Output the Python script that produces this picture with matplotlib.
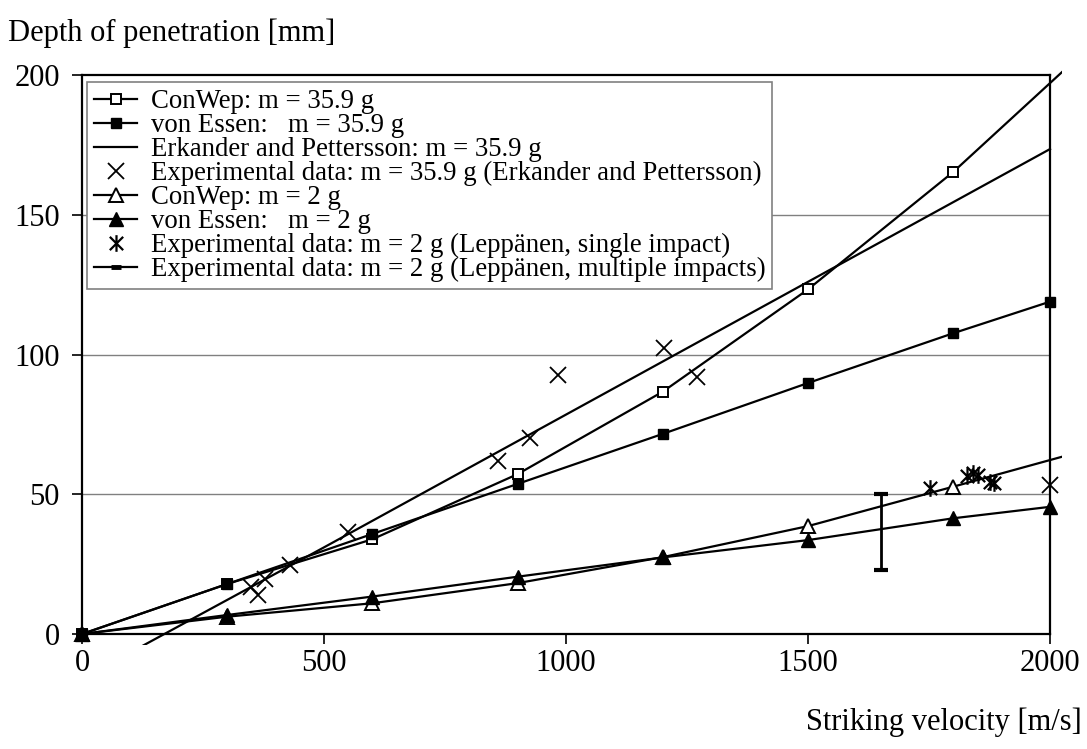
import matplotlib
matplotlib.use("Agg")
import matplotlib.pyplot as plt
from matplotlib.lines import Line2D
from matplotlib.patches import Rectangle
from matplotlib.path import Path

plt.rcParams['font.family'] = ['Liberation Serif', 'DejaVu Serif']

# ---- data ----
conwep36_v = [0, 300, 600, 900, 1200, 1500, 1800, 2100]
conwep36_p = [0, 17.9, 33.9, 57.2, 86.7, 123.3, 165.3, 213]

essen36_v = [0, 300, 600, 900, 1200, 1500, 1800, 2000]
essen36_p = [0, 17.9, 35.8, 53.7, 71.6, 89.8, 107.6, 118.9]

erk_v = [0, 500, 1000, 1500, 2000]
erk_p = [-16, 31, 78.5, 126, 173.5]

exp36_v = [350, 364, 378, 430, 550, 860, 925, 984, 1203, 1270, 2000]
exp36_p = [16.9, 14, 19.5, 24.7, 36.6, 62, 70, 92.7, 102.2, 92, 53.3]

conwep2_v = [0, 300, 600, 900, 1200, 1500, 1800, 2100]
conwep2_p = [0, 6.2, 11, 18.2, 27.5, 38.6, 52.7, 67]

essen2_v = [0, 300, 600, 900, 1200, 1500, 1800, 2000]
essen2_p = [0, 6.8, 13.4, 20.5, 27.4, 33.6, 41.4, 45.5]

single_v = [1752, 1828, 1840, 1852, 1875, 1885]
single_p = [52.3, 56.5, 57.5, 57, 54.5, 54]

multi_v = [1650]
multi_lo = [23]
multi_hi = [50]

labels = [
    "ConWep: m = 35.9 g",
    "von Essen:   m = 35.9 g",
    "Erkander and Pettersson: m = 35.9 g",
    "Experimental data: m = 35.9 g (Erkander and Pettersson)",
    "ConWep: m = 2 g",
    "von Essen:   m = 2 g",
    "Experimental data: m = 2 g (Leppänen, single impact)",
    "Experimental data: m = 2 g (Leppänen, multiple impacts)",
]

W, H = 1087, 749
fig = plt.figure(figsize=(W / 100, H / 100), dpi=100)
ax = fig.add_axes([82 / W, 1 - 634 / H, (1050 - 82) / W, (634 - 75) / H])
ax.set_xlim(0, 2000)
ax.set_ylim(0, 200)

clip = Rectangle((-0.0124, -0.0197), 1.0248, 1.0394, transform=ax.transAxes,
                 facecolor='none', edgecolor='none')

lw = 1.6
star = Path([(-1, -1), (1, 1), (-1, 1), (1, -1), (0, -1.25), (0, 1.25)],
            [Path.MOVETO, Path.LINETO, Path.MOVETO, Path.LINETO, Path.MOVETO, Path.LINETO])

l1, = ax.plot(conwep36_v, conwep36_p, '-', color='k', lw=lw, marker='s', ms=7.8,
              mfc='white', mec='k', mew=1.4, zorder=3)
l2, = ax.plot(essen36_v, essen36_p, '-', color='k', lw=lw, marker='s', ms=7.8,
              mfc='k', mec='k', zorder=3)
l3, = ax.plot(erk_v, erk_p, '-', color='k', lw=lw, zorder=3)
l4, = ax.plot(exp36_v, exp36_p, linestyle='none', marker='x', ms=11, mec='k', mew=1.3, zorder=4)
l5, = ax.plot(conwep2_v, conwep2_p, '-', color='k', lw=lw, marker='^', ms=9.5,
              mfc='white', mec='k', mew=1.4, zorder=3)
l6, = ax.plot(essen2_v, essen2_p, '-', color='k', lw=lw, marker='^', ms=9.5,
              mfc='k', mec='k', zorder=3)
l7, = ax.plot(single_v, single_p, linestyle='none', marker=star, ms=12, mec='k', mew=1.6, zorder=4)
mid = [(a + b) / 2 for a, b in zip(multi_lo, multi_hi)]
err = [(b - a) / 2 for a, b in zip(multi_lo, multi_hi)]
ax.errorbar(multi_v, mid, yerr=err, fmt='none', ecolor='k', elinewidth=2.0,
            capsize=5, capthick=3, zorder=4)
l8 = Line2D([], [], color='k', lw=lw, marker='_', ms=7, mew=3.5)

for ln in (l1, l2, l3, l5, l6):
    ln.set_clip_path(clip)
for ln in (l4, l7):
    ln.set_clip_on(False)

ax.set_yticks([0, 50, 100, 150, 200])
ax.set_xticks([0, 500, 1000, 1500, 2000])
for yv in [50, 100, 150]:
    ax.axhline(yv, color='#808080', lw=1.0, zorder=1)
for s in ax.spines.values():
    s.set_linewidth(1.6)
    s.set_color('k')
ax.tick_params(axis='both', direction='out', length=7.5, width=1.2, labelsize=22, colors='k')
ax.tick_params(axis='y', pad=8.5)
ax.tick_params(axis='x', pad=3.5)

leg = ax.legend([l1, l2, l3, l4, l5, l6, l7, l8], labels, loc='upper left',
                bbox_to_anchor=(87 / W, 1 - 82 / H), bbox_transform=fig.transFigure,
                fontsize=19.3, frameon=True, fancybox=False, framealpha=1,
                edgecolor='#808080', labelspacing=-0.04, handlelength=1.6,
                handletextpad=0.5, borderpad=0.27, borderaxespad=0)
leg.get_frame().set_linewidth(1.2)
leg.set_zorder(2.5)

fig.text(8 / W, 1 - 33 / H, "Depth of penetration [mm]", fontsize=22, ha='left', va='center')
fig.text(1082 / W, 1 - 722 / H, "Striking velocity [m/s]", fontsize=22, ha='right', va='center')

fig.savefig("out.png", dpi=100)
